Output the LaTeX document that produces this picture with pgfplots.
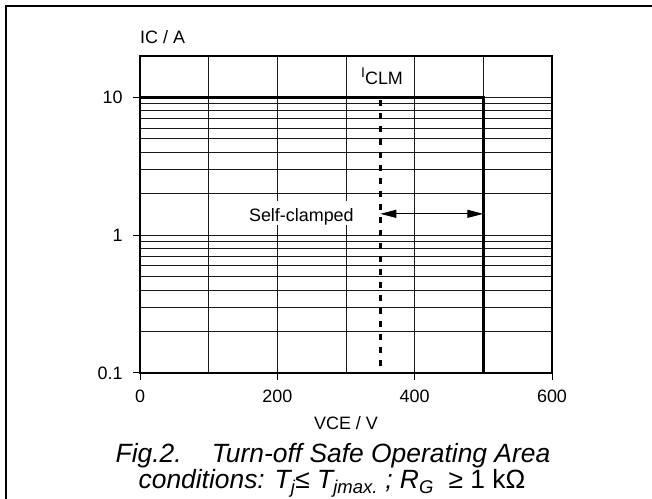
\documentclass[border=0pt]{standalone}
\usepackage{pgfplots}
\pgfplotsset{compat=1.18}
\usepackage{fontspec}
\setmainfont{Liberation Sans}
\usetikzlibrary{arrows.meta}
\newcommand{\lab}{\fontsize{18}{20}\selectfont}
\begin{document}
\begin{tikzpicture}[x=1bp,y=1bp]
\useasboundingbox (0,0) rectangle (652,499);
\fill[white] (0,0) rectangle (652,499);
\draw[line width=2bp] (6,0) -- (6,492.5) -- (652,492.5);
\begin{axis}[
  at={(140bp,126bp)}, anchor=south west,
  scale only axis, width=412bp, height=317bp,
  xmin=0, xmax=600, ymode=log, ymin=0.1, ymax=20,
  xtick={0,200,400,600}, xticklabels={0,200,400,600},
  minor xtick={100,300,500},
  ytick={0.1,1,10}, yticklabels={0.1,1,10},
  minor ytick={0.2,0.3,0.4,0.5,0.6,0.7,0.8,0.9,2,3,4,5,6,7,8,9},
  xmajorgrids, xminorgrids, ymajorgrids, yminorgrids,
  grid style={black!90, line width=0.9bp},
  minor grid style={black!90, line width=0.9bp},
  axis line style={line width=1.2bp},
  tick align=outside, major tick length=7bp, minor tick length=0pt,
  tick style={black, line width=1bp},
  xtick pos=left, ytick pos=left,
  tick label style={font=\lab},
  yticklabel style={anchor=east, xshift=-7bp},
  xticklabel style={anchor=north, yshift=-6bp},
]
\addplot[line width=3.2bp, dash pattern=on 6bp off 7bp] coordinates {(350,9.6) (350,0.11)};
\addplot[line width=3.5bp, line join=miter] coordinates {(0,10) (500,10) (500,0.1)};
\addplot[line width=1bp, {Triangle[length=16bp,width=8bp]}-{Triangle[length=16bp,width=8bp]}] coordinates {(350,1.43) (500,1.43)};
\node[fill=white, inner xsep=1bp, inner ysep=0pt, text height=20bp, text depth=4bp, anchor=base, font=\lab] at (axis cs:235,1.264) {Self-clamped};
\node[anchor=base west, inner sep=0pt, font=\lab] at (axis cs:321.8,12.37) {{\fontsize{14}{14}\selectfont\raisebox{7bp}{I}}CLM};
\end{axis}
\node[anchor=base west, inner sep=0pt, font=\lab] at (140,455) {IC / A};
\node[anchor=base, inner sep=0pt, font=\lab] at (346,69) {VCE / V};
\node[anchor=base, inner sep=0pt, font=\fontsize{26.5}{28}\selectfont\itshape] at (333,36) {Fig.2.\hspace*{30bp}Turn-off Safe Operating Area};
\node[anchor=base, inner sep=0pt, font=\fontsize{26.5}{28}\selectfont] at (332,10) {\textit{conditions: T\textsubscript{j}≤ T\textsubscript{jmax.} ; R\textsubscript{G}}\ \ ≥ 1 kΩ};
\end{tikzpicture}
\end{document}
